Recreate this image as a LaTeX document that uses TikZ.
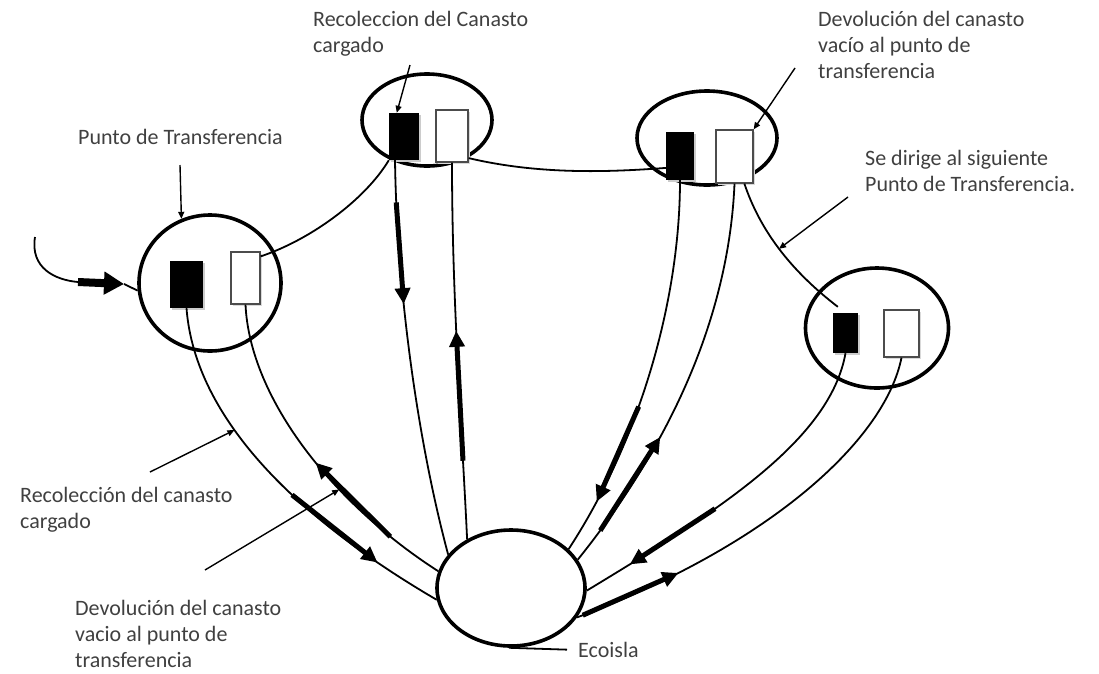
\documentclass[tikz,border=0pt]{standalone}
\usepackage{fontspec}
\setmainfont{Carlito}
\usetikzlibrary{shapes.geometric,arrows.meta,shadows,calc}

\definecolor{ecotextgray}{HTML}{404040}
\newcommand\ecotextstyle{\fontsize{22}{26}\selectfont}
\tikzset{
  ecopoint/.style={ellipse, draw, line width=3.6pt, inner sep=0pt},
  ecofull/.style={rectangle, fill=black, inner sep=0pt,
    drop shadow={fill=black!20, opacity=1, shadow xshift=2pt, shadow yshift=-2pt}},
  ecoempty/.style={rectangle, draw=black!70, line width=1.3pt, fill=white, inner sep=0pt,
    drop shadow={fill=black!15, opacity=1, shadow xshift=2pt, shadow yshift=-2pt}},
  ecoroute/.style={line width=1.8pt},
  ecoheavy/.style={line width=5pt, -{Triangle[length=16pt, width=15pt]}},
  ecocallout/.style={line width=1.4pt, -{Triangle[length=7pt, width=6pt]}},
  ecotext/.style={anchor=north west, inner sep=0pt, align=left, text=ecotextgray, font=\ecotextstyle},
}

\begin{document}
\begin{tikzpicture}[x=1pt, y=-1pt]
    \useasboundingbox (0,0) rectangle (1099,673) ;

    \node[ecopoint, minimum width=142pt, minimum height=136pt] (tp1) at (210,283) {} ;
    \node[ecopoint, minimum width=130pt, minimum height=92pt] (tp2) at (427,120) {} ;
    \node[ecopoint, minimum width=140pt, minimum height=94pt] (tp3) at (707,138) {} ;
    \node[ecopoint, minimum width=143pt, minimum height=120pt] (tp4) at (877,328) {} ;
    \node[ecopoint, minimum width=148pt, minimum height=116pt] (eco) at (511,588) {} ;

    \node[ecofull, minimum width=33pt, minimum height=47pt] (b1) at (186.5,284.5) {} ;
    \node[ecoempty, minimum width=29pt, minimum height=52pt] (w1) at (245.5,278) {} ;
    \node[ecofull, minimum width=30pt, minimum height=47pt] (b2) at (404,136.5) {} ;
    \node[ecoempty, minimum width=32pt, minimum height=52pt] (w2) at (452,136) {} ;
    \node[ecofull, minimum width=28pt, minimum height=48pt] (b3) at (680,156) {} ;
    \node[ecoempty, minimum width=37pt, minimum height=53pt] (w3) at (734.5,156.5) {} ;
    \node[ecofull, minimum width=25pt, minimum height=40pt] (b4) at (845.5,333) {} ;
    \node[ecoempty, minimum width=35pt, minimum height=47pt] (w4) at (901.5,333.5) {} ;

    \coordinate (tail) at (35,237) ;
    \coordinate (hin) at (78,282) ;
    \coordinate (hout) at (124,284) ;
    \draw[ecoroute] (tail) .. controls (30,268) and (55,280) .. (hin) ;
    \draw[line width=8pt, -{Triangle[length=20pt, width=22pt]}] (hin) -- (hout) ;
    \draw[ecoroute] (hout) -- (tp1.186) ;

    \draw[ecoroute] (w1.55) .. controls (310,240) and (365,200) .. (b2.south west) ;
    \draw[ecoroute] (w2.307) .. controls (540,175) and (610,172) .. (b3.220) ;
    \draw[ecoroute] (w3.290) .. controls (760,230) and (790,270) .. ($(b4.north west)+(5,-6)$)
      coordinate[pos=.5] (t3n) ;

    \draw[ecoroute] (b1.south) .. controls (195,420) and (300,520) .. (eco.189)
      coordinate[pos=.38] (r1n) coordinate[pos=.6] (r1a) coordinate[pos=.85] (r1b) ;
    \draw[ecoheavy] (r1a) -- (r1b) ;
    \draw[ecoroute] (w1.south) .. controls (250,400) and (335,505) .. (eco.167)
      coordinate[pos=.65] (r2n) coordinate[pos=.55] (r2a) coordinate[pos=.84] (r2b) ;
    \draw[ecoheavy] (r2b) -- (r2a) ;
    \draw[ecoroute] ($(b2.south)+(-9,0)$) .. controls (397,300) and (420,450) .. (eco.152)
      coordinate[pos=.1] (r3a) coordinate[pos=.34] (r3b) ;
    \draw[ecoheavy] (r3a) -- (r3b) ;
    \draw[ecoroute] (w2.south) .. controls (452,300) and (462,430) .. (eco.132)
      coordinate[pos=.42] (r4a) coordinate[pos=.77] (r4b) ;
    \draw[ecoheavy] (r4b) -- (r4a) ;
    \draw[ecoroute] (b3.south) .. controls (680,300) and (640,440) .. (eco.34)
      coordinate[pos=.6] (r5a) coordinate[pos=.86] (r5b) ;
    \draw[ecoheavy] (r5a) -- (r5b) ;
    \draw[ecoroute] (w3.south) .. controls (730,290) and (690,420) .. (eco.23)
      coordinate[pos=.7] (r6a) coordinate[pos=.93] (r6b) ;
    \draw[ecoheavy] (r6b) -- (r6a) ;
    \draw[ecoroute] (b4.south) .. controls (830,440) and (720,510) .. (eco.358)
      coordinate[pos=.65] (r7a) coordinate[pos=.89] (r7b) ;
    \draw[ecoheavy] (r7a) -- (r7b) ;
    \draw[ecoroute] (w4.south) .. controls (885,440) and (770,545) .. (eco.336)
      coordinate[pos=.81] (r8a) coordinate[pos=.99] (r8b) ;
    \draw[ecoheavy] (r8b) -- (r8a) ;

    \node[ecotext] (lbltp) at (78,129) {Punto de Transferencia} ;
    \node[ecotext] (lblrecol) at (313,11) {Recoleccion del Canasto\\cargado} ;
    \node[ecotext] (lbldevol) at (818,11) {Devolución del canasto\\vacío al punto de\\transferencia} ;
    \node[ecotext] (lblsig) at (865,150) {Se dirige al siguiente\\Punto de Transferencia.} ;
    \node[ecotext] (lblrecolb) at (20,487) {Recolección del canasto\\cargado} ;
    \node[ecotext] (lbldevolb) at (75,600) {Devolución del canasto\\vacio al punto de\\transferencia} ;
    \node[ecotext, anchor=west] (lbleco) at (578,650) {Ecoisla} ;

    \coordinate (ptp) at (180,165) ;
    \coordinate (prc) at (410,65) ;
    \coordinate (pdv) at (795,68) ;
    \coordinate (psg) at (848,197) ;
    \coordinate (prb) at (150,472) ;
    \coordinate (pdb) at (205,570) ;
    \draw[ecocallout] (ptp) -- (tp1.114) ;
    \draw[ecocallout] (prc) -- (b2.107) ;
    \draw[ecocallout] (pdv) -- (w3.north east) ;
    \draw[ecocallout] (psg) -- (t3n) ;
    \draw[ecocallout] (prb) -- (r1n) ;
    \draw[ecocallout] (pdb) -- (r2n) ;
    \draw[line width=1.8pt, shorten >=11pt] (eco.268) -- (lbleco.west) ;
\end{tikzpicture}
\end{document}
